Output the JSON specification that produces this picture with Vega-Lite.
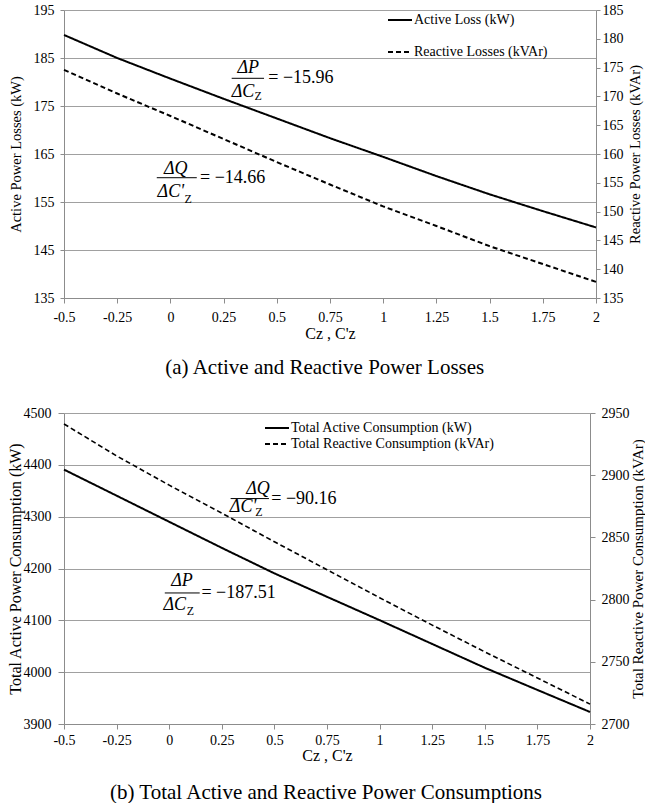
{
  "$schema": "https://vega.github.io/schema/vega-lite/v6.json",
  "padding": {"top": 3, "left": 7, "right": 0, "bottom": 0},
  "background": "white",
  "spacing": 28,
  "config": {
    "font": "Liberation Serif",
    "view": {"stroke": null},
    "axis": {
      "labelFont": "Liberation Serif", "titleFont": "Liberation Serif",
      "labelFontSize": 14, "titleFontSize": 16, "titleFontWeight": "normal",
      "labelColor": "black", "titleColor": "black",
      "domainColor": "#8c8c8c", "tickColor": "#8c8c8c", "gridColor": "#a0a0a0",
      "labelFlush": false, "labelOverlap": false
    },
    "legend": {
      "labelFont": "Liberation Serif", "labelFontSize": 14, "labelColor": "black", "labelLimit": 400,
      "symbolType": "M-2,0H2", "symbolSize": 144, "symbolStrokeWidth": 2,
      "symbolStrokeColor": "black", "symbolFillColor": "transparent", "labelOffset": 7
    },
    "text": {"font": "Liberation Serif"},
    "title": {"font": "Liberation Serif", "fontSize": 21, "fontWeight": "normal", "color": "black"}
  },
  "resolve": {"scale": {"strokeDash": "independent"}, "legend": {"strokeDash": "independent"}},
  "datasets": {
    "losses": [
      {"c": -0.5, "p": 189.8, "q": 174.6},
      {"c": -0.25, "p": 185.0, "q": 170.5},
      {"c": 0, "p": 180.7, "q": 166.6},
      {"c": 0.25, "p": 176.5, "q": 162.6},
      {"c": 0.5, "p": 172.4, "q": 158.6},
      {"c": 0.75, "p": 168.3, "q": 154.7},
      {"c": 1, "p": 164.4, "q": 150.9},
      {"c": 1.25, "p": 160.4, "q": 147.5},
      {"c": 1.5, "p": 156.6, "q": 144.0},
      {"c": 1.75, "p": 153.1, "q": 140.9},
      {"c": 2, "p": 149.7, "q": 137.8}
    ],
    "cons": [
      {"c": -0.5, "p": 4390.8, "q": 2941.2},
      {"c": -0.25, "p": 4340.5, "q": 2915.5},
      {"c": 0, "p": 4290.1, "q": 2892.0},
      {"c": 0.25, "p": 4239.8, "q": 2869.5},
      {"c": 0.5, "p": 4190.6, "q": 2846.5},
      {"c": 0.75, "p": 4145.4, "q": 2824.0},
      {"c": 1, "p": 4100.3, "q": 2801.5},
      {"c": 1.25, "p": 4054.4, "q": 2779.5},
      {"c": 1.5, "p": 4008.5, "q": 2758.0},
      {"c": 1.75, "p": 3965.7, "q": 2737.0},
      {"c": 2, "p": 3923.2, "q": 2716.0}
    ],
    "textA": [
      {"x": 0.366, "y": 182.85, "t": "ΔP", "k": "main"},
      {"x": 0.341, "y": 177.98, "t": "ΔC", "k": "main"},
      {"x": 0.412, "y": 177.08, "t": "Z", "k": "sub"},
      {"x": 0.46, "y": 180.77, "t": "= −15.96", "k": "eq"},
      {"x": 0.025, "y": 161.9, "t": "ΔQ", "k": "main"},
      {"x": 0.002, "y": 157.15, "t": "ΔC'", "k": "main"},
      {"x": 0.083, "y": 155.6, "t": "Z", "k": "sub"},
      {"x": 0.139, "y": 160.06, "t": "= −14.66", "k": "eq"}
    ],
    "barsA": [
      {"x": 0.288, "x2": 0.44, "y": 180.77},
      {"x": -0.064, "x2": 0.124, "y": 160.06}
    ],
    "textB": [
      {"x": 0.422, "y": 4354.0, "t": "ΔQ", "k": "main"},
      {"x": 0.351, "y": 4318.0, "t": "ΔC'", "k": "main"},
      {"x": 0.427, "y": 4308.4, "t": "Z", "k": "sub"},
      {"x": 0.485, "y": 4334.9, "t": "= −90.16", "k": "eq"},
      {"x": 0.061, "y": 4175.3, "t": "ΔP", "k": "main"},
      {"x": 0.026, "y": 4130.4, "t": "ΔC", "k": "main"},
      {"x": 0.101, "y": 4118.0, "t": "Z", "k": "sub"},
      {"x": 0.153, "y": 4152.8, "t": "= −187.51", "k": "eq"}
    ],
    "barsB": [
      {"x": 0.292, "x2": 0.474, "y": 4334.9},
      {"x": -0.021, "x2": 0.145, "y": 4152.8}
    ]
  },
  "vconcat": [
    {
      "width": 532,
      "height": 288,
      "title": {"text": "(a)  Active and Reactive Power Losses", "orient": "bottom", "offset": 16, "frame": "bounds"},
      "layer": [
        {
          "layer": [
            {
              "data": {"name": "losses"},
              "mark": {"type": "line", "color": "black", "strokeWidth": 2},
              "encoding": {
                "x": {"field": "c", "type": "quantitative", "scale": {"domain": [-0.5, 2], "nice": false},
                  "axis": {"values": [-0.5, -0.25, 0, 0.25, 0.5, 0.75, 1, 1.25, 1.5, 1.75, 2], "labelExpr": "datum.value + ''",
                    "labelFont": "Liberation Serif", "titleFont": "Liberation Serif",
                    "title": "Cᴢ , C'ᴢ", "grid": false, "tickSize": 5, "labelPadding": 7, "titlePadding": 1}},
                "y": {"field": "p", "type": "quantitative", "scale": {"domain": [135, 195], "nice": false},
                  "axis": {"values": [135, 145, 155, 165, 175, 185, 195], "labelExpr": "datum.value + ''", "grid": true, "tickSize": 4, "labelPadding": 6,
                    "labelFont": "Liberation Serif", "titleFont": "Liberation Serif", "titleFontSize": 14.5,
                    "title": "Active Power Losses (kW)", "titlePadding": 10}},
                "strokeDash": {"datum": "Active Loss (kW)", "type": "nominal",
                  "scale": {"domain": ["Active Loss (kW)", "Reactive Losses (kVAr)"], "range": [[1, 0], [5, 3]]},
                  "legend": {"title": null, "orient": "none", "legendX": 329, "legendY": 3, "rowPadding": 18}}
              }
            },
            {
              "data": {"name": "barsA"},
              "mark": {"type": "rule", "color": "black", "strokeWidth": 1},
              "encoding": {
                "x": {"field": "x", "type": "quantitative", "scale": {"domain": [-0.5, 2], "nice": false}},
                "x2": {"field": "x2"},
                "y": {"field": "y", "type": "quantitative", "scale": {"domain": [135, 195], "nice": false}}
              }
            },
            {
              "data": {"name": "textA"},
              "transform": [{"filter": "datum.k == 'main'"}],
              "mark": {"type": "text", "font": "Liberation Serif", "fontStyle": "italic", "fontSize": 18, "align": "center", "baseline": "middle", "color": "black"},
              "encoding": {
                "x": {"field": "x", "type": "quantitative", "scale": {"domain": [-0.5, 2], "nice": false}},
                "y": {"field": "y", "type": "quantitative", "scale": {"domain": [135, 195], "nice": false}},
                "text": {"field": "t"}
              }
            },
            {
              "data": {"name": "textA"},
              "transform": [{"filter": "datum.k == 'eq'"}],
              "mark": {"type": "text", "font": "Liberation Serif", "fontSize": 18, "align": "left", "baseline": "middle", "color": "black"},
              "encoding": {
                "x": {"field": "x", "type": "quantitative", "scale": {"domain": [-0.5, 2], "nice": false}},
                "y": {"field": "y", "type": "quantitative", "scale": {"domain": [135, 195], "nice": false}},
                "text": {"field": "t"}
              }
            },
            {
              "data": {"name": "textA"},
              "transform": [{"filter": "datum.k == 'sub'"}],
              "mark": {"type": "text", "font": "Liberation Serif", "fontSize": 12, "align": "center", "baseline": "middle", "color": "black"},
              "encoding": {
                "x": {"field": "x", "type": "quantitative", "scale": {"domain": [-0.5, 2], "nice": false}},
                "y": {"field": "y", "type": "quantitative", "scale": {"domain": [135, 195], "nice": false}},
                "text": {"field": "t"}
              }
            }
          ]
        },
        {
          "data": {"name": "losses"},
          "mark": {"type": "line", "color": "black", "strokeWidth": 2},
          "encoding": {
            "x": {"field": "c", "type": "quantitative", "scale": {"domain": [-0.5, 2], "nice": false}},
            "y": {"field": "q", "type": "quantitative", "scale": {"domain": [135, 185], "nice": false},
              "axis": {"orient": "right", "values": [135, 140, 145, 150, 155, 160, 165, 170, 175, 180, 185], "labelExpr": "datum.value + ''", "grid": false,
                "labelFont": "Liberation Serif", "titleFont": "Liberation Serif", "titleFontSize": 14.5,
                "tickSize": 4, "labelPadding": 2, "title": "Reactive Power Losses (kVAr)", "titleAngle": -90, "titleBaseline": "top", "titlePadding": 5}},
            "strokeDash": {"datum": "Reactive Losses (kVAr)", "type": "nominal"}
          }
        }
      ],
      "resolve": {"scale": {"y": "independent"}}
    },
    {
      "width": 526,
      "height": 311,
      "title": {"text": "(b)  Total Active and Reactive Power Consumptions", "orient": "bottom", "offset": 19, "frame": "bounds"},
      "layer": [
        {
          "layer": [
            {
              "data": {"name": "cons"},
              "mark": {"type": "line", "color": "black", "strokeWidth": 2},
              "encoding": {
                "x": {"field": "c", "type": "quantitative", "scale": {"domain": [-0.5, 2], "nice": false},
                  "axis": {"values": [-0.5, -0.25, 0, 0.25, 0.5, 0.75, 1, 1.25, 1.5, 1.75, 2], "labelExpr": "datum.value + ''",
                    "labelFont": "Liberation Serif", "titleFont": "Liberation Serif",
                    "title": "Cᴢ , C'ᴢ", "grid": false, "tickSize": 5, "labelPadding": 4, "titlePadding": 0}},
                "y": {"field": "p", "type": "quantitative", "scale": {"domain": [3900, 4500], "nice": false},
                  "axis": {"values": [3900, 4000, 4100, 4200, 4300, 4400, 4500], "labelExpr": "datum.value + ''", "grid": true, "tickSize": 6, "labelPadding": 7,
                    "labelFont": "Liberation Serif", "titleFont": "Liberation Serif",
                    "title": "Total Active Power Consumption (kW)", "titlePadding": 0}},
                "strokeDash": {"datum": "Total Active Consumption (kW)", "type": "nominal",
                  "scale": {"domain": ["Total Active Consumption (kW)", "Total Reactive Consumption (kVAr)"], "range": [[1, 0], [5, 3]]},
                  "legend": {"title": null, "orient": "none", "legendX": 206, "legendY": 8, "rowPadding": 2}}
              }
            },
            {
              "data": {"name": "barsB"},
              "mark": {"type": "rule", "color": "black", "strokeWidth": 1},
              "encoding": {
                "x": {"field": "x", "type": "quantitative", "scale": {"domain": [-0.5, 2], "nice": false}},
                "x2": {"field": "x2"},
                "y": {"field": "y", "type": "quantitative", "scale": {"domain": [3900, 4500], "nice": false}}
              }
            },
            {
              "data": {"name": "textB"},
              "transform": [{"filter": "datum.k == 'main'"}],
              "mark": {"type": "text", "font": "Liberation Serif", "fontStyle": "italic", "fontSize": 18, "align": "center", "baseline": "middle", "color": "black"},
              "encoding": {
                "x": {"field": "x", "type": "quantitative", "scale": {"domain": [-0.5, 2], "nice": false}},
                "y": {"field": "y", "type": "quantitative", "scale": {"domain": [3900, 4500], "nice": false}},
                "text": {"field": "t"}
              }
            },
            {
              "data": {"name": "textB"},
              "transform": [{"filter": "datum.k == 'eq'"}],
              "mark": {"type": "text", "font": "Liberation Serif", "fontSize": 18, "align": "left", "baseline": "middle", "color": "black"},
              "encoding": {
                "x": {"field": "x", "type": "quantitative", "scale": {"domain": [-0.5, 2], "nice": false}},
                "y": {"field": "y", "type": "quantitative", "scale": {"domain": [3900, 4500], "nice": false}},
                "text": {"field": "t"}
              }
            },
            {
              "data": {"name": "textB"},
              "transform": [{"filter": "datum.k == 'sub'"}],
              "mark": {"type": "text", "font": "Liberation Serif", "fontSize": 12, "align": "center", "baseline": "middle", "color": "black"},
              "encoding": {
                "x": {"field": "x", "type": "quantitative", "scale": {"domain": [-0.5, 2], "nice": false}},
                "y": {"field": "y", "type": "quantitative", "scale": {"domain": [3900, 4500], "nice": false}},
                "text": {"field": "t"}
              }
            }
          ]
        },
        {
          "data": {"name": "cons"},
          "mark": {"type": "line", "color": "black", "strokeWidth": 1.6},
          "encoding": {
            "x": {"field": "c", "type": "quantitative", "scale": {"domain": [-0.5, 2], "nice": false}},
            "y": {"field": "q", "type": "quantitative", "scale": {"domain": [2700, 2950], "nice": false},
              "axis": {"orient": "right", "values": [2700, 2750, 2800, 2850, 2900, 2950], "labelExpr": "datum.value + ''", "grid": false,
                "labelFont": "Liberation Serif", "titleFont": "Liberation Serif", "titleFontSize": 15,
                "tickSize": 5, "labelPadding": 6, "title": "Total Reactive Power Consumption (kVAr)", "titleAngle": -90, "titleBaseline": "top", "titlePadding": 1}},
            "strokeDash": {"datum": "Total Reactive Consumption (kVAr)", "type": "nominal"}
          }
        }
      ],
      "resolve": {"scale": {"y": "independent"}}
    }
  ]
}
